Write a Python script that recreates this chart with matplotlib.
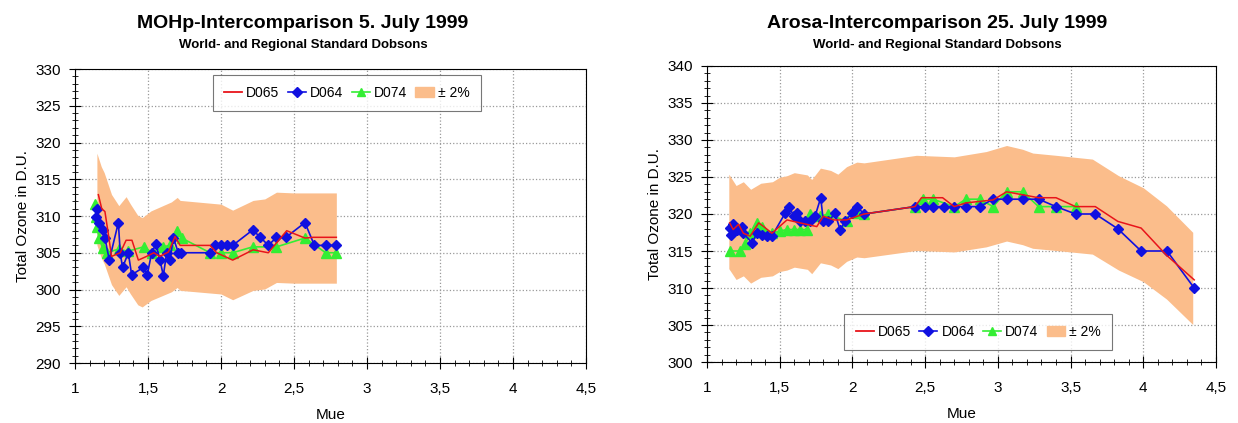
import matplotlib
matplotlib.use("Agg")
import matplotlib.pyplot as plt
import numpy as np
from matplotlib.ticker import MultipleLocator
from matplotlib.patches import Patch
from matplotlib.lines import Line2D

plt.rcParams['font.family'] = ['Liberation Sans', 'DejaVu Sans']

# ---- MOHp 5 July 1999 ----
l_d064_x = [1.144, 1.153, 1.167, 1.19, 1.205, 1.235, 1.297, 1.31, 1.326, 1.365, 1.388, 1.468, 1.495,
            1.525, 1.555, 1.582, 1.605, 1.628, 1.65, 1.674, 1.708, 1.724, 1.925, 1.96, 2.0, 2.04,
            2.08, 2.217, 2.27, 2.324, 2.38, 2.445, 2.575, 2.64, 2.717, 2.79]
l_d064_y = [309.9, 311.0, 309.0, 308.1, 307.0, 304.0, 309.1, 304.9, 303.0, 305.0, 302.0, 303.0, 302.0,
            305.0, 306.2, 304.0, 301.9, 305.0, 304.0, 307.0, 305.0, 305.0, 305.0, 306.0, 306.0, 306.0,
            306.0, 308.1, 307.1, 306.0, 307.1, 307.1, 309.1, 306.0, 306.0, 306.0]

l_d065_x = [1.16, 1.183, 1.205, 1.228, 1.25, 1.31, 1.35, 1.39, 1.434, 1.49, 1.54, 1.58, 1.64, 1.685,
            1.72, 1.925, 1.97, 2.08, 2.22, 2.324, 2.45, 2.575, 2.63, 2.79]
l_d065_y = [312.9, 311.0, 310.6, 307.6, 304.5, 305.0, 306.7, 306.7, 304.0, 304.5, 305.0, 304.5, 305.1,
            307.2, 306.0, 306.0, 305.0, 304.0, 305.4, 305.0, 308.0, 307.0, 307.1, 307.1]

l_d074_x = [1.137, 1.144, 1.15, 1.165, 1.19, 1.217, 1.3, 1.36, 1.47, 1.53, 1.6, 1.65, 1.696, 1.73,
            1.925, 2.0, 2.08, 2.217, 2.38, 2.575, 2.717, 2.79]
l_d074_y = [311.7, 309.9, 308.5, 307.0, 305.6, 305.0, 305.5, 305.2, 305.8, 305.0, 305.8, 306.0, 308.0,
            307.0, 305.0, 305.0, 305.0, 305.8, 305.8, 307.0, 305.0, 305.0]

l_ref_x = [1.15, 1.18, 1.2, 1.25, 1.3, 1.35, 1.38, 1.43, 1.46, 1.52, 1.59, 1.66, 1.7, 1.72, 2.0, 2.08,
           2.22, 2.3, 2.38, 2.5, 2.79]
l_ref_y = [312.3, 310.5, 309.7, 306.8, 305.3, 306.5, 305.5, 304.0, 303.7, 304.6, 305.2, 305.8, 306.4,
           306.0, 305.5, 304.7, 306.0, 306.2, 307.1, 307.0, 307.0]

# ---- Arosa 25 July 1999 ----
r_d064_x = [1.156, 1.165, 1.18, 1.205, 1.24, 1.25, 1.31, 1.343, 1.377, 1.41, 1.446, 1.537, 1.567,
            1.595, 1.617, 1.64, 1.675, 1.709, 1.743, 1.782, 1.80, 1.835, 1.88, 1.915, 1.95, 1.995,
            2.03, 2.08, 2.43, 2.50, 2.555, 2.63, 2.70, 2.78, 2.875, 2.967, 3.06, 3.17, 3.28, 3.40,
            3.534, 3.67, 3.825, 3.985, 4.163, 4.35]
r_d064_y = [318.1, 317.2, 318.6, 317.9, 318.3, 317.4, 316.1, 317.4, 317.2, 317.0, 317.0, 320.1, 321.0,
            319.7, 320.1, 319.0, 319.0, 319.0, 319.7, 322.2, 319.0, 319.0, 320.1, 317.9, 319.0, 320.1,
            321.0, 320.0, 321.0, 321.0, 321.0, 321.0, 321.0, 321.0, 321.0, 322.0, 322.0, 322.0, 322.0,
            321.0, 320.0, 320.0, 318.0, 315.0, 315.0, 310.0]

r_d065_x = [1.156, 1.18, 1.217, 1.25, 1.297, 1.355, 1.39, 1.446, 1.55, 1.64, 1.755, 1.80, 1.87, 1.96,
            2.08, 2.43, 2.475, 2.62, 2.70, 2.78, 2.967, 3.06, 3.17, 3.28, 3.40, 3.534, 3.67, 3.825,
            3.985, 4.156, 4.35]
r_d065_y = [318.8, 317.9, 318.6, 317.4, 317.0, 318.8, 318.3, 317.4, 319.2, 318.8, 318.3, 319.7, 319.2,
            319.2, 320.0, 321.0, 322.2, 322.2, 321.0, 321.5, 321.9, 323.0, 322.6, 322.2, 322.2, 321.0,
            321.0, 319.0, 318.1, 314.5, 311.1]

r_d074_x = [1.16, 1.23, 1.263, 1.297, 1.343, 1.377, 1.446, 1.503, 1.55, 1.595, 1.64, 1.686, 1.709,
            1.778, 1.835, 1.96, 2.03, 2.08, 2.43, 2.487, 2.555, 2.70, 2.78, 2.875, 2.967, 3.06, 3.17,
            3.28, 3.40, 3.534]
r_d074_y = [315.0, 315.0, 315.9, 317.4, 318.8, 318.3, 317.4, 317.7, 317.9, 317.9, 317.9, 317.9, 320.0,
            319.7, 320.0, 319.0, 320.1, 320.0, 321.0, 322.0, 322.0, 321.0, 322.0, 322.0, 321.0, 323.0,
            323.0, 321.0, 321.0, 321.0]

r_ref_x = [1.15, 1.2, 1.25, 1.3, 1.37, 1.45, 1.5, 1.55, 1.6, 1.69, 1.72, 1.78, 1.85, 1.9, 1.96, 2.03,
           2.08, 2.44, 2.7, 2.92, 3.06, 3.17, 3.24, 3.4, 3.65, 3.83, 4.0, 4.16, 4.34]
r_ref_y = [319.0, 317.5, 318.0, 317.0, 317.8, 318.0, 318.6, 318.8, 319.2, 318.9, 318.3, 319.8, 319.5,
           319.0, 320.0, 320.6, 320.5, 321.5, 321.3, 322.0, 322.8, 322.3, 321.8, 321.5, 321.0, 318.8,
           317.2, 314.8, 311.3]

x_ticks = [1, 1.5, 2, 2.5, 3, 3.5, 4, 4.5]
x_labels = ['1', '1,5', '2', '2,5', '3', '3,5', '4', '4,5']

band_col = '#fbbd8b'
red = '#e8141a'
blue = '#1010e0'
green = '#33ee33'


def draw(ax, d064, d065, d074, ref, ylim, title, title_x, legend_loc, legend_anchor):
    rx = np.array(ref[0])
    ry = np.array(ref[1])
    ax.fill_between(rx, ry * 0.98, ry * 1.02, color=band_col, lw=0, zorder=1)
    ax.plot(d074[0], d074[1], color=green, marker='^', ms=6.5, lw=1.2, zorder=3)
    ax.plot(d064[0], d064[1], color=blue, marker='D', ms=5.5, lw=1.2, zorder=4)
    ax.plot(d065[0], d065[1], color=red, lw=1.1, zorder=5)

    ax.set_xlim(1, 4.5)
    ax.set_ylim(*ylim)
    ax.set_xticks(x_ticks)
    ax.set_xticklabels(x_labels)
    ax.yaxis.set_major_locator(MultipleLocator(5))
    ax.yaxis.set_minor_locator(MultipleLocator(1))
    ax.xaxis.set_minor_locator(MultipleLocator(0.1))
    ax.tick_params(which='major', direction='inout', length=8, width=0.8, labelsize=11, pad=6)
    ax.tick_params(which='minor', direction='inout', length=4, width=0.6)
    ax.tick_params(axis='x', pad=10)
    ax.grid(True, which='major', ls=':', color='#999999', lw=0.9)
    ax.set_axisbelow(True)
    ax.set_xlabel('Mue', fontsize=11, labelpad=8)
    ax.set_ylabel('Total Ozone in D.U.', fontsize=11, labelpad=4)

    handles = [Line2D([], [], color=red, lw=1.3),
               Line2D([], [], color=blue, marker='D', ms=5, lw=1.2),
               Line2D([], [], color=green, marker='^', ms=6, lw=1.2),
               Patch(color=band_col)]
    leg = ax.legend(handles, ['D065', 'D064', 'D074', '\u00b1 2%'], ncol=4, loc=legend_loc,
                    bbox_to_anchor=legend_anchor, fontsize=10, frameon=True, fancybox=False,
                    handlelength=1.3, handletextpad=0.3, columnspacing=0.6, borderpad=0.8,
                    borderaxespad=0)
    leg.get_frame().set_edgecolor('#555555')
    leg.get_frame().set_linewidth(0.8)

    fig.text(title_x, 0.945, title, ha='center', va='center', fontsize=14, fontweight='bold')
    fig.text(title_x, 0.893, 'World- and Regional Standard Dobsons', ha='center', va='center',
             fontsize=9.5, fontweight='bold')


fig = plt.figure(figsize=(12.38, 4.23), dpi=100)
ax1 = fig.add_axes([75 / 1238, 60 / 423, 511 / 1238, 294 / 423])
ax2 = fig.add_axes([707 / 1238, 61 / 423, 509 / 1238, 296 / 423])

draw(ax1, (l_d064_x, l_d064_y), (l_d065_x, l_d065_y), (l_d074_x, l_d074_y), (l_ref_x, l_ref_y),
     (290, 330), 'MOHp-Intercomparison 5. July 1999', 303 / 1238, 'upper left', (0.27, 0.98))
draw(ax2, (r_d064_x, r_d064_y), (r_d065_x, r_d065_y), (r_d074_x, r_d074_y), (r_ref_x, r_ref_y),
     (300, 340), 'Arosa-Intercomparison 25. July 1999', 937 / 1238, 'lower left', (0.27, 0.04))

fig.savefig('out.png', dpi=100)
